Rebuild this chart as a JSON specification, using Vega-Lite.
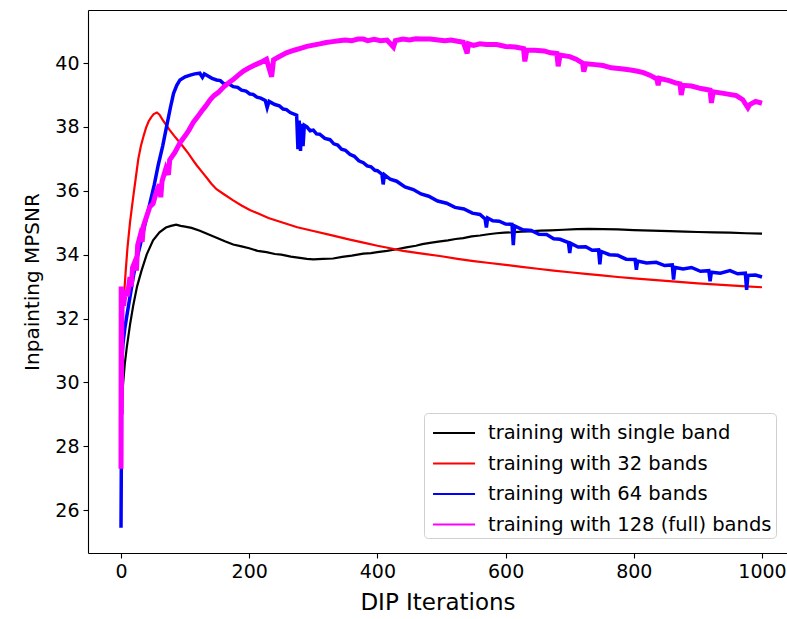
{
  "$schema": "https://vega.github.io/schema/vega-lite/v6.json",
  "width": 699,
  "height": 543,
  "autosize": {"type": "none"},
  "padding": {"left": 88, "top": 10, "right": 0, "bottom": 66},
  "background": "white",
  "config": {
    "view": {"stroke": null},
    "axis": {"domainColor": "#000", "domainWidth": 1.1, "tickColor": "#000", "tickSize": 5, "tickWidth": 1.1, "labelFont": "DejaVu Sans", "labelFontSize": 19, "labelColor": "#000", "titleFont": "DejaVu Sans", "titleFontSize": 21, "titleFontWeight": "normal", "titleColor": "#000", "grid": false, "labelPadding": 4},
    "legend": {"orient": "none", "legendX": 336, "legendY": 403, "fillColor": "white", "strokeColor": "#d0d0d0", "cornerRadius": 4, "padding": 4, "symbolType": "M-0.73,0H2.07", "symbolSize": 900, "symbolStrokeWidth": 2, "labelFontSize": 19.5, "labelFont": "DejaVu Sans", "labelColor": "#000", "labelOffset": 28, "rowPadding": 4.5, "labelLimit": 0}
  },
  "data": {"values": [
    {"band":"single","iter":0,"psnr":28.0},{"band":"single","iter":0.5,"psnr":28.8},{"band":"single","iter":1,"psnr":29.2},{"band":"single","iter":3,"psnr":29.9},{"band":"single","iter":6,"psnr":30.6},{"band":"single","iter":9,"psnr":31.1},{"band":"single","iter":14,"psnr":31.8},{"band":"single","iter":19,"psnr":32.4},{"band":"single","iter":25,"psnr":33.0},{"band":"single","iter":32,"psnr":33.5},{"band":"single","iter":40,"psnr":34.0},{"band":"single","iter":50,"psnr":34.45},{"band":"single","iter":60,"psnr":34.7},{"band":"single","iter":70,"psnr":34.85},{"band":"single","iter":78,"psnr":34.9},{"band":"single","iter":86,"psnr":34.94},{"band":"single","iter":93,"psnr":34.9},{"band":"single","iter":100,"psnr":34.88},{"band":"single","iter":110,"psnr":34.84},{"band":"single","iter":123,"psnr":34.75},{"band":"single","iter":136,"psnr":34.64},{"band":"single","iter":150,"psnr":34.52},{"band":"single","iter":162,"psnr":34.42},{"band":"single","iter":175,"psnr":34.32},{"band":"single","iter":188,"psnr":34.26},{"band":"single","iter":200,"psnr":34.2},{"band":"single","iter":213,"psnr":34.12},{"band":"single","iter":227,"psnr":34.08},{"band":"single","iter":240,"psnr":34.02},{"band":"single","iter":250,"psnr":34.0},{"band":"single","iter":265,"psnr":33.94},{"band":"single","iter":279,"psnr":33.9},{"band":"single","iter":290,"psnr":33.87},{"band":"single","iter":300,"psnr":33.85},{"band":"single","iter":315,"psnr":33.87},{"band":"single","iter":331,"psnr":33.88},{"band":"single","iter":345,"psnr":33.93},{"band":"single","iter":360,"psnr":33.97},{"band":"single","iter":378,"psnr":34.03},{"band":"single","iter":390,"psnr":34.05},{"band":"single","iter":400,"psnr":34.08},{"band":"single","iter":415,"psnr":34.12},{"band":"single","iter":430,"psnr":34.17},{"band":"single","iter":445,"psnr":34.23},{"band":"single","iter":460,"psnr":34.28},{"band":"single","iter":470,"psnr":34.33},{"band":"single","iter":482,"psnr":34.37},{"band":"single","iter":495,"psnr":34.41},{"band":"single","iter":510,"psnr":34.45},{"band":"single","iter":522,"psnr":34.49},{"band":"single","iter":534,"psnr":34.52},{"band":"single","iter":547,"psnr":34.57},{"band":"single","iter":560,"psnr":34.6},{"band":"single","iter":573,"psnr":34.64},{"band":"single","iter":586,"psnr":34.67},{"band":"single","iter":598,"psnr":34.69},{"band":"single","iter":610,"psnr":34.7},{"band":"single","iter":624,"psnr":34.72},{"band":"single","iter":638,"psnr":34.73},{"band":"single","iter":654,"psnr":34.75},{"band":"single","iter":670,"psnr":34.76},{"band":"single","iter":690,"psnr":34.78},{"band":"single","iter":711,"psnr":34.8},{"band":"single","iter":730,"psnr":34.81},{"band":"single","iter":752,"psnr":34.8},{"band":"single","iter":775,"psnr":34.79},{"band":"single","iter":800,"psnr":34.77},{"band":"single","iter":828,"psnr":34.75},{"band":"single","iter":856,"psnr":34.74},{"band":"single","iter":880,"psnr":34.72},{"band":"single","iter":900,"psnr":34.71},{"band":"single","iter":925,"psnr":34.7},{"band":"single","iter":950,"psnr":34.69},{"band":"single","iter":975,"psnr":34.67},{"band":"single","iter":1000,"psnr":34.66},

    {"band":"32","iter":0,"psnr":32.9},{"band":"32","iter":1,"psnr":32.6},{"band":"32","iter":3,"psnr":32.3},{"band":"32","iter":5,"psnr":32.8},{"band":"32","iter":7,"psnr":33.4},{"band":"32","iter":10,"psnr":34.2},{"band":"32","iter":14,"psnr":35.0},{"band":"32","iter":19,"psnr":35.8},{"band":"32","iter":23,"psnr":36.4},{"band":"32","iter":27,"psnr":37.0},{"band":"32","iter":31,"psnr":37.4},{"band":"32","iter":35,"psnr":37.7},{"band":"32","iter":39,"psnr":37.97},{"band":"32","iter":43,"psnr":38.17},{"band":"32","iter":47,"psnr":38.3},{"band":"32","iter":51,"psnr":38.4},{"band":"32","iter":56,"psnr":38.45},{"band":"32","iter":60,"psnr":38.38},{"band":"32","iter":65,"psnr":38.22},{"band":"32","iter":70,"psnr":38.07},{"band":"32","iter":76,"psnr":37.9},{"band":"32","iter":83,"psnr":37.72},{"band":"32","iter":90,"psnr":37.55},{"band":"32","iter":97,"psnr":37.38},{"band":"32","iter":105,"psnr":37.17},{"band":"32","iter":112,"psnr":36.97},{"band":"32","iter":118,"psnr":36.8},{"band":"32","iter":126,"psnr":36.6},{"band":"32","iter":134,"psnr":36.4},{"band":"32","iter":141,"psnr":36.22},{"band":"32","iter":149,"psnr":36.05},{"band":"32","iter":160,"psnr":35.9},{"band":"32","iter":175,"psnr":35.7},{"band":"32","iter":188,"psnr":35.54},{"band":"32","iter":201,"psnr":35.4},{"band":"32","iter":215,"psnr":35.28},{"band":"32","iter":230,"psnr":35.15},{"band":"32","iter":253,"psnr":35.0},{"band":"32","iter":275,"psnr":34.86},{"band":"32","iter":300,"psnr":34.74},{"band":"32","iter":326,"psnr":34.62},{"band":"32","iter":357,"psnr":34.47},{"band":"32","iter":380,"psnr":34.37},{"band":"32","iter":400,"psnr":34.28},{"band":"32","iter":420,"psnr":34.2},{"band":"32","iter":440,"psnr":34.12},{"band":"32","iter":470,"psnr":34.03},{"band":"32","iter":500,"psnr":33.95},{"band":"32","iter":525,"psnr":33.87},{"band":"32","iter":550,"psnr":33.8},{"band":"32","iter":575,"psnr":33.74},{"band":"32","iter":600,"psnr":33.68},{"band":"32","iter":625,"psnr":33.62},{"band":"32","iter":650,"psnr":33.56},{"band":"32","iter":675,"psnr":33.5},{"band":"32","iter":700,"psnr":33.45},{"band":"32","iter":725,"psnr":33.4},{"band":"32","iter":750,"psnr":33.35},{"band":"32","iter":775,"psnr":33.3},{"band":"32","iter":800,"psnr":33.26},{"band":"32","iter":825,"psnr":33.22},{"band":"32","iter":850,"psnr":33.18},{"band":"32","iter":875,"psnr":33.14},{"band":"32","iter":900,"psnr":33.1},{"band":"32","iter":925,"psnr":33.07},{"band":"32","iter":950,"psnr":33.04},{"band":"32","iter":975,"psnr":33.01},{"band":"32","iter":1000,"psnr":32.98},

    {"band":"64","iter":0,"psnr":25.45},{"band":"64","iter":0.5,"psnr":27.5},{"band":"64","iter":1,"psnr":30.6},{"band":"64","iter":3,"psnr":31.2},{"band":"64","iter":6,"psnr":31.7},{"band":"64","iter":10,"psnr":32.2},{"band":"64","iter":15,"psnr":32.8},{"band":"64","iter":20,"psnr":33.4},{"band":"64","iter":25,"psnr":33.9},{"band":"64","iter":30,"psnr":34.3},{"band":"64","iter":38,"psnr":35.0},{"band":"64","iter":45,"psnr":35.6},{"band":"64","iter":52,"psnr":36.2},{"band":"64","iter":58,"psnr":36.8},{"band":"64","iter":65,"psnr":37.4},{"band":"64","iter":71,"psnr":38.0},{"band":"64","iter":77,"psnr":38.6},{"band":"64","iter":82,"psnr":39.05},{"band":"64","iter":87,"psnr":39.3},{"band":"64","iter":92,"psnr":39.47},{"band":"64","iter":100,"psnr":39.57},{"band":"64","iter":108,"psnr":39.62},{"band":"64","iter":115,"psnr":39.66},{"band":"64","iter":123,"psnr":39.68},{"band":"64","iter":127,"psnr":39.55},{"band":"64","iter":130,"psnr":39.66},{"band":"64","iter":135,"psnr":39.6},{"band":"64","iter":142,"psnr":39.52},{"band":"64","iter":149,"psnr":39.47},{"band":"64","iter":155,"psnr":39.45},{"band":"64","iter":160,"psnr":39.36},{"band":"64","iter":168,"psnr":39.35},{"band":"64","iter":175,"psnr":39.26},{"band":"64","iter":182,"psnr":39.24},{"band":"64","iter":188,"psnr":39.15},{"band":"64","iter":195,"psnr":39.12},{"band":"64","iter":201,"psnr":39.03},{"band":"64","iter":206,"psnr":39.02},{"band":"64","iter":212,"psnr":38.93},{"band":"64","iter":218,"psnr":38.9},{"band":"64","iter":225,"psnr":38.83},{"band":"64","iter":228,"psnr":38.6},{"band":"64","iter":231,"psnr":38.8},{"band":"64","iter":240,"psnr":38.7},{"band":"64","iter":247,"psnr":38.66},{"band":"64","iter":253,"psnr":38.56},{"band":"64","iter":258,"psnr":38.54},{"band":"64","iter":264,"psnr":38.45},{"band":"64","iter":274,"psnr":38.37},{"band":"64","iter":276,"psnr":37.3},{"band":"64","iter":278,"psnr":38.2},{"band":"64","iter":280,"psnr":37.25},{"band":"64","iter":282,"psnr":38.1},{"band":"64","iter":284,"psnr":37.4},{"band":"64","iter":286,"psnr":38.05},{"band":"64","iter":290,"psnr":38.0},{"band":"64","iter":295,"psnr":37.88},{"band":"64","iter":300,"psnr":37.9},{"band":"64","iter":305,"psnr":37.78},{"band":"64","iter":310,"psnr":37.77},{"band":"64","iter":318,"psnr":37.64},{"band":"64","iter":326,"psnr":37.6},{"band":"64","iter":332,"psnr":37.47},{"band":"64","iter":338,"psnr":37.43},{"band":"64","iter":344,"psnr":37.3},{"band":"64","iter":350,"psnr":37.27},{"band":"64","iter":357,"psnr":37.14},{"band":"64","iter":364,"psnr":37.08},{"band":"64","iter":371,"psnr":36.94},{"band":"64","iter":378,"psnr":36.88},{"band":"64","iter":384,"psnr":36.78},{"band":"64","iter":390,"psnr":36.75},{"band":"64","iter":396,"psnr":36.64},{"band":"64","iter":400,"psnr":36.63},{"band":"64","iter":407,"psnr":36.52},{"band":"64","iter":409,"psnr":36.2},{"band":"64","iter":411,"psnr":36.5},{"band":"64","iter":420,"psnr":36.36},{"band":"64","iter":430,"psnr":36.3},{"band":"64","iter":443,"psnr":36.12},{"band":"64","iter":456,"psnr":36.04},{"band":"64","iter":468,"psnr":35.9},{"band":"64","iter":480,"psnr":35.83},{"band":"64","iter":494,"psnr":35.68},{"band":"64","iter":508,"psnr":35.61},{"band":"64","iter":521,"psnr":35.48},{"band":"64","iter":535,"psnr":35.43},{"band":"64","iter":548,"psnr":35.3},{"band":"64","iter":560,"psnr":35.26},{"band":"64","iter":568,"psnr":35.12},{"band":"64","iter":570,"psnr":34.85},{"band":"64","iter":572,"psnr":35.15},{"band":"64","iter":580,"psnr":35.06},{"band":"64","iter":590,"psnr":35.05},{"band":"64","iter":600,"psnr":34.96},{"band":"64","iter":610,"psnr":34.95},{"band":"64","iter":612,"psnr":34.3},{"band":"64","iter":614,"psnr":34.9},{"band":"64","iter":627,"psnr":34.78},{"band":"64","iter":640,"psnr":34.76},{"band":"64","iter":652,"psnr":34.64},{"band":"64","iter":664,"psnr":34.63},{"band":"64","iter":675,"psnr":34.5},{"band":"64","iter":685,"psnr":34.48},{"band":"64","iter":698,"psnr":34.38},{"band":"64","iter":700,"psnr":34.05},{"band":"64","iter":702,"psnr":34.35},{"band":"64","iter":713,"psnr":34.24},{"band":"64","iter":725,"psnr":34.25},{"band":"64","iter":735,"psnr":34.14},{"band":"64","iter":745,"psnr":34.15},{"band":"64","iter":747,"psnr":33.7},{"band":"64","iter":749,"psnr":34.1},{"band":"64","iter":762,"psnr":34.0},{"band":"64","iter":775,"psnr":33.98},{"band":"64","iter":788,"psnr":33.86},{"band":"64","iter":802,"psnr":33.85},{"band":"64","iter":804,"psnr":33.53},{"band":"64","iter":806,"psnr":33.8},{"band":"64","iter":820,"psnr":33.74},{"band":"64","iter":835,"psnr":33.76},{"band":"64","iter":848,"psnr":33.66},{"band":"64","iter":860,"psnr":33.68},{"band":"64","iter":862,"psnr":33.22},{"band":"64","iter":864,"psnr":33.6},{"band":"64","iter":877,"psnr":33.55},{"band":"64","iter":890,"psnr":33.6},{"band":"64","iter":904,"psnr":33.48},{"band":"64","iter":917,"psnr":33.5},{"band":"64","iter":919,"psnr":33.17},{"band":"64","iter":921,"psnr":33.45},{"band":"64","iter":935,"psnr":33.42},{"band":"64","iter":950,"psnr":33.5},{"band":"64","iter":962,"psnr":33.4},{"band":"64","iter":974,"psnr":33.42},{"band":"64","iter":976,"psnr":32.9},{"band":"64","iter":978,"psnr":33.35},{"band":"64","iter":990,"psnr":33.36},{"band":"64","iter":1000,"psnr":33.3},

    {"band":"128","iter":0,"psnr":27.3},{"band":"128","iter":0.3,"psnr":33.0},{"band":"128","iter":0.6,"psnr":29.0},{"band":"128","iter":1,"psnr":31.5},{"band":"128","iter":2,"psnr":32.9},{"band":"128","iter":4,"psnr":32.4},{"band":"128","iter":7,"psnr":32.9},{"band":"128","iter":10,"psnr":32.7},{"band":"128","iter":14,"psnr":33.3},{"band":"128","iter":16,"psnr":33.0},{"band":"128","iter":18,"psnr":33.6},{"band":"128","iter":22,"psnr":33.8},{"band":"128","iter":24,"psnr":33.5},{"band":"128","iter":26,"psnr":34.3},{"band":"128","iter":30,"psnr":34.6},{"band":"128","iter":33,"psnr":34.4},{"band":"128","iter":35,"psnr":34.9},{"band":"128","iter":40,"psnr":35.2},{"band":"128","iter":45,"psnr":35.5},{"band":"128","iter":50,"psnr":35.6},{"band":"128","iter":55,"psnr":35.95},{"band":"128","iter":60,"psnr":36.2},{"band":"128","iter":62,"psnr":35.8},{"band":"128","iter":64,"psnr":36.3},{"band":"128","iter":70,"psnr":36.7},{"band":"128","iter":74,"psnr":36.5},{"band":"128","iter":76,"psnr":36.97},{"band":"128","iter":84,"psnr":37.2},{"band":"128","iter":92,"psnr":37.5},{"band":"128","iter":100,"psnr":37.72},{"band":"128","iter":106,"psnr":37.9},{"band":"128","iter":113,"psnr":38.15},{"band":"128","iter":120,"psnr":38.33},{"band":"128","iter":126,"psnr":38.5},{"band":"128","iter":132,"psnr":38.65},{"band":"128","iter":139,"psnr":38.85},{"band":"128","iter":145,"psnr":38.98},{"band":"128","iter":152,"psnr":39.08},{"band":"128","iter":160,"psnr":39.25},{"band":"128","iter":168,"psnr":39.38},{"band":"128","iter":175,"psnr":39.48},{"band":"128","iter":183,"psnr":39.62},{"band":"128","iter":191,"psnr":39.75},{"band":"128","iter":200,"psnr":39.85},{"band":"128","iter":210,"psnr":39.95},{"band":"128","iter":218,"psnr":40.02},{"band":"128","iter":227,"psnr":40.12},{"band":"128","iter":233,"psnr":39.7},{"band":"128","iter":235,"psnr":39.57},{"band":"128","iter":238,"psnr":40.1},{"band":"128","iter":245,"psnr":40.18},{"band":"128","iter":258,"psnr":40.32},{"band":"128","iter":270,"psnr":40.4},{"band":"128","iter":280,"psnr":40.46},{"band":"128","iter":290,"psnr":40.52},{"band":"128","iter":300,"psnr":40.56},{"band":"128","iter":310,"psnr":40.6},{"band":"128","iter":320,"psnr":40.64},{"band":"128","iter":330,"psnr":40.67},{"band":"128","iter":340,"psnr":40.7},{"band":"128","iter":350,"psnr":40.72},{"band":"128","iter":360,"psnr":40.7},{"band":"128","iter":370,"psnr":40.75},{"band":"128","iter":378,"psnr":40.75},{"band":"128","iter":385,"psnr":40.7},{"band":"128","iter":395,"psnr":40.74},{"band":"128","iter":405,"psnr":40.7},{"band":"128","iter":415,"psnr":40.72},{"band":"128","iter":425,"psnr":40.5},{"band":"128","iter":428,"psnr":40.7},{"band":"128","iter":440,"psnr":40.75},{"band":"128","iter":450,"psnr":40.72},{"band":"128","iter":460,"psnr":40.76},{"band":"128","iter":470,"psnr":40.75},{"band":"128","iter":482,"psnr":40.75},{"band":"128","iter":495,"psnr":40.72},{"band":"128","iter":505,"psnr":40.7},{"band":"128","iter":515,"psnr":40.72},{"band":"128","iter":525,"psnr":40.68},{"band":"128","iter":534,"psnr":40.65},{"band":"128","iter":540,"psnr":40.3},{"band":"128","iter":542,"psnr":40.6},{"band":"128","iter":550,"psnr":40.55},{"band":"128","iter":560,"psnr":40.6},{"band":"128","iter":570,"psnr":40.58},{"band":"128","iter":586,"psnr":40.58},{"band":"128","iter":600,"psnr":40.52},{"band":"128","iter":615,"psnr":40.5},{"band":"128","iter":628,"psnr":40.45},{"band":"128","iter":630,"psnr":40.05},{"band":"128","iter":633,"psnr":40.4},{"band":"128","iter":645,"psnr":40.4},{"band":"128","iter":660,"psnr":40.38},{"band":"128","iter":670,"psnr":40.32},{"band":"128","iter":680,"psnr":40.3},{"band":"128","iter":682,"psnr":39.9},{"band":"128","iter":685,"psnr":40.25},{"band":"128","iter":700,"psnr":40.2},{"band":"128","iter":710,"psnr":40.12},{"band":"128","iter":720,"psnr":40.0},{"band":"128","iter":722,"psnr":39.73},{"band":"128","iter":725,"psnr":39.98},{"band":"128","iter":740,"psnr":39.95},{"band":"128","iter":752,"psnr":39.92},{"band":"128","iter":765,"psnr":39.85},{"band":"128","iter":780,"psnr":39.82},{"band":"128","iter":795,"psnr":39.78},{"band":"128","iter":804,"psnr":39.75},{"band":"128","iter":815,"psnr":39.7},{"band":"128","iter":825,"psnr":39.62},{"band":"128","iter":836,"psnr":39.5},{"band":"128","iter":838,"psnr":39.3},{"band":"128","iter":840,"psnr":39.52},{"band":"128","iter":855,"psnr":39.45},{"band":"128","iter":865,"psnr":39.38},{"band":"128","iter":872,"psnr":39.35},{"band":"128","iter":874,"psnr":39.0},{"band":"128","iter":877,"psnr":39.3},{"band":"128","iter":890,"psnr":39.28},{"band":"128","iter":905,"psnr":39.2},{"band":"128","iter":919,"psnr":39.15},{"band":"128","iter":921,"psnr":38.75},{"band":"128","iter":924,"psnr":39.1},{"band":"128","iter":940,"psnr":39.05},{"band":"128","iter":960,"psnr":38.98},{"band":"128","iter":970,"psnr":38.85},{"band":"128","iter":978,"psnr":38.6},{"band":"128","iter":981,"psnr":38.7},{"band":"128","iter":990,"psnr":38.8},{"band":"128","iter":1000,"psnr":38.74}
  ]},
  "resolve": {"axis": {"x": "independent"}},
  "layer": [
    {
      "transform": [{"filter": "datum.band == 'single'"}],
      "mark": {"type": "line", "strokeWidth": 2.2, "clip": true},
      "encoding": {
        "x": {"field": "iter", "type": "quantitative", "scale": {"domain": [-51.5, 1039], "nice": false, "zero": false}, "axis": {"values": [0, 200, 400, 600, 800, 1000], "format": "d", "title": "DIP Iterations", "titlePadding": 10, "titleFontSize": 23}},
        "y": {"field": "psnr", "type": "quantitative", "scale": {"domain": [24.66, 41.66], "nice": false, "zero": false}, "axis": {"values": [26, 28, 30, 32, 34, 36, 38, 40], "title": "Inpainting MPSNR", "titlePadding": 12, "titleFontSize": 20}},
        "color": {"field": "band", "type": "nominal", "scale": {"domain": ["single", "32", "64", "128"], "range": ["#000000", "#ff0000", "#0000ff", "#ff00ff"]}, "legend": {"title": null, "labelExpr": "datum.label == 'single' ? 'training with single band' : datum.label == '128' ? 'training with 128 (full) bands' : 'training with ' + datum.label + ' bands'"}}
      }
    },
    {
      "transform": [{"filter": "datum.band == '32'"}],
      "mark": {"type": "line", "strokeWidth": 2.2, "clip": true},
      "encoding": {
        "x": {"field": "iter", "type": "quantitative", "axis": {"orient": "top", "labels": false, "ticks": false, "domain": true, "title": null}},
        "y": {"field": "psnr", "type": "quantitative"},
        "color": {"field": "band", "type": "nominal"}
      }
    },
    {
      "transform": [{"filter": "datum.band == '64'"}],
      "mark": {"type": "line", "strokeWidth": 3.5, "clip": true},
      "encoding": {
        "x": {"field": "iter", "type": "quantitative", "axis": null},
        "y": {"field": "psnr", "type": "quantitative"},
        "color": {"field": "band", "type": "nominal"}
      }
    },
    {
      "transform": [{"filter": "datum.band == '128'"}],
      "mark": {"type": "line", "strokeWidth": 5, "clip": true},
      "encoding": {
        "x": {"field": "iter", "type": "quantitative", "axis": null},
        "y": {"field": "psnr", "type": "quantitative"},
        "color": {"field": "band", "type": "nominal"}
      }
    }
  ]
}
